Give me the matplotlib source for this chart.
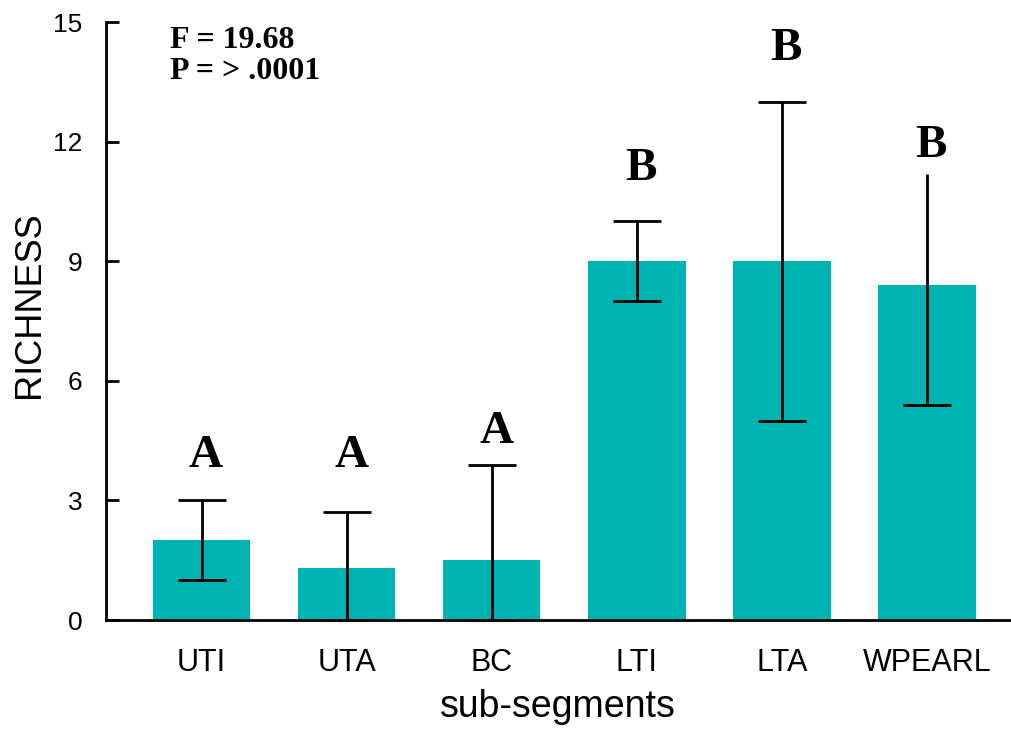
import matplotlib
matplotlib.use("Agg")
import matplotlib.pyplot as plt
from matplotlib import font_manager
import numpy as np

categories = ["UTI", "UTA", "BC", "LTI", "LTA", "WPEARL"]
richness = [2.0, 1.3, 1.5, 9.0, 9.0, 8.4]
err_low = [1.0, 1.3, 1.5, 1.0, 4.0, 3.0]
err_high = [1.0, 1.4, 2.4, 1.0, 4.0, 2.8]
top_cap = [True, True, True, True, True, False]
groups = ["A", "A", "A", "B", "B", "B"]
group_y = [3.85, 3.85, 4.43, 11.04, 14.04, 11.62]
y_ticks = [0, 3, 6, 9, 12, 15]
stats_lines = ["F = 19.68", "P = > .0001"]

available = {f.name for f in font_manager.fontManager.ttflist}
has_narrow = "Liberation Sans Narrow" in available
tick_font = "Liberation Sans Narrow" if has_narrow else "Liberation Sans"
x_tick_size = 25 if has_narrow else 22
y_tick_size = 21 if has_narrow else 19
sans = "Liberation Sans"
serif = "Liberation Serif"

TEAL = "#00B3B3"

fig = plt.figure(figsize=(10.11, 7.36), dpi=100)
ax = fig.add_axes([0.1048, 0.1576, 0.894, 0.8124])

x = np.arange(len(categories))
ax.bar(x, richness, width=0.67, color=TEAL, zorder=2)

lo = np.array(richness) - np.array(err_low)
hi = np.array(richness) + np.array(err_high)
ax.errorbar(x, richness, yerr=[err_low, err_high], fmt="none",
            ecolor="black", elinewidth=2, capsize=0, zorder=3)
ax.plot(x, lo, linestyle="none", marker="_", markersize=35,
        markeredgewidth=2, color="black", zorder=3, clip_on=False)
cap_x = [xi for xi, c in zip(x, top_cap) if c]
cap_y = [h for h, c in zip(hi, top_cap) if c]
ax.plot(cap_x, cap_y, linestyle="none", marker="_", markersize=35,
        markeredgewidth=2, color="black", zorder=3)

for xi, g, gy in zip(x, groups, group_y):
    ax.text(xi + 0.03, gy, g, ha="center", va="baseline",
            fontfamily=serif, fontweight="bold", fontsize=34)

ax.text(0.0705, 0.994, "\n".join(stats_lines), transform=ax.transAxes,
        ha="left", va="top", fontfamily=serif, fontweight="bold",
        fontsize=23, linespacing=1.1)

ax.set_xlim(-0.6595, 5.57)
ax.set_ylim(0, 15)
ax.set_yticks(y_ticks)
ax.set_yticklabels([str(t) for t in y_ticks], fontfamily=tick_font,
                   fontsize=y_tick_size)
ax.set_xticks(x)
ax.set_xticklabels(categories, fontfamily=tick_font, fontsize=x_tick_size)

ax.tick_params(axis="y", direction="in", length=9.5, width=2, pad=17)
ax.tick_params(axis="x", length=0, pad=20)

for side in ("top", "right"):
    ax.spines[side].set_visible(False)
for side in ("left", "bottom"):
    ax.spines[side].set_linewidth(2)

ax.set_ylabel("RICHNESS", fontfamily=sans, fontsize=26,
              va="center", ha="center")
ax.yaxis.set_label_coords(-0.085, 0.527)
ax.set_xlabel("sub-segments", fontfamily=sans, fontsize=27, labelpad=8)

fig.savefig("out.png", dpi=100)
